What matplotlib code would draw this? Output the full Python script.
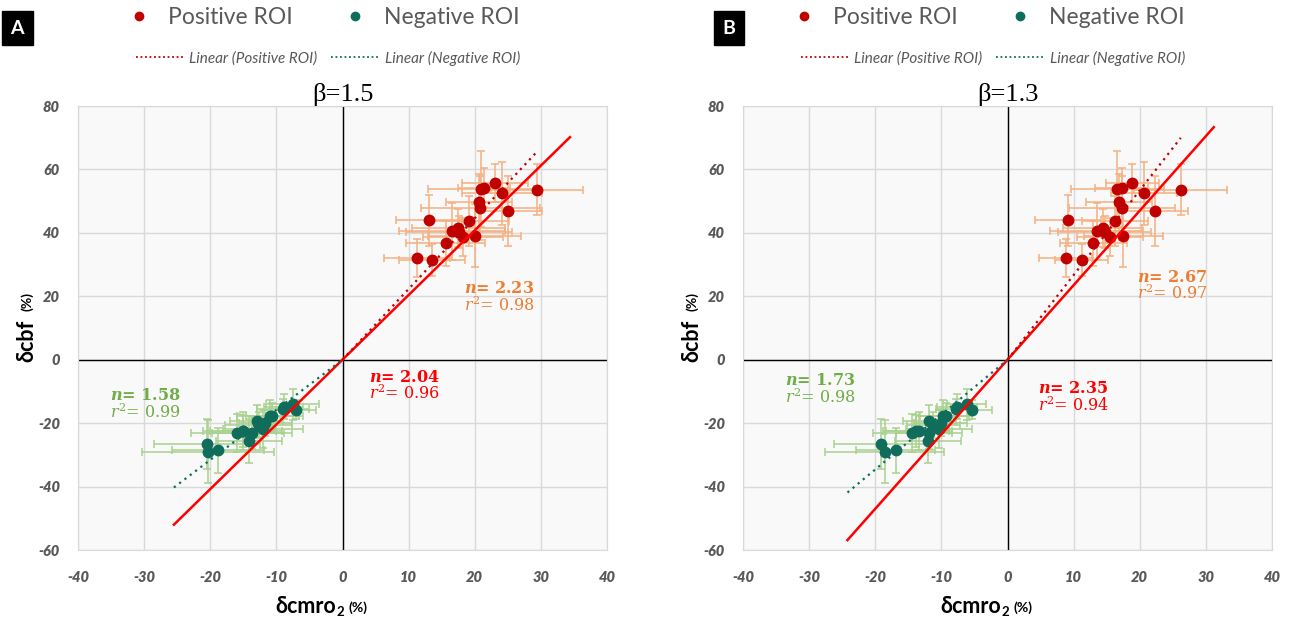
import matplotlib
matplotlib.use("Agg")
import matplotlib.pyplot as plt
from matplotlib.lines import Line2D
import numpy as np

# delta cbf (%) -- same for both beta values
cbf_pos = [32.2, 31.5, 44.0, 36.7, 40.5, 41.4, 40.2, 38.6, 43.7, 39.1, 49.6, 47.9, 53.9, 54.3, 55.8, 52.5, 46.8, 53.6]
cbf_pos_err = [6, 5, 8, 7, 9, 6, 5, 6, 8, 10, 9, 10, 12, 6, 6, 10, 11, 8]
cbf_neg = [-26.6, -29.0, -28.6, -23.1, -22.4, -22.6, -25.6, -23.0, -19.3, -20.6, -21.7, -20.0, -17.8, -17.7, -15.4, -14.8, -14.1, -15.8]
cbf_neg_err = [8, 10, 7, 6, 5, 6, 7, 5, 5, 4, 6, 4, 5, 4, 3, 4, 5, 3]

# delta cmro2 (%) for beta = 1.5 (A) and beta = 1.3 (B)
cmro_pos_a = [11.3, 13.5, 13.1, 15.6, 16.6, 17.5, 17.6, 18.2, 19.2, 20.0, 20.6, 20.8, 21.0, 21.4, 23.1, 24.1, 25.1, 29.4]
cmro_pos_a_err = [5, 5, 5, 6, 8, 7, 8, 6, 6, 7, 5, 9, 8, 4, 5, 6, 5, 7]
cmro_neg_a = [-20.5, -20.3, -18.8, -15.9, -15.1, -15.0, -14.2, -13.7, -13.0, -12.7, -12.0, -11.7, -11.0, -10.6, -9.0, -8.9, -7.5, -7.0]
cmro_neg_a_err = [8, 10, 7, 7, 6, 5, 5, 6, 4, 5, 6, 4, 5, 4, 4, 3, 4, 3]

cmro_pos_b = [8.8, 11.2, 9.1, 13.0, 13.5, 14.4, 14.7, 15.5, 16.2, 17.5, 16.9, 17.3, 16.6, 17.3, 18.9, 20.6, 22.3, 26.2]
cmro_pos_b_err = [4, 4, 5, 5, 7, 6, 7, 5, 5, 6, 5, 8, 7, 4, 4, 5, 5, 7]
cmro_neg_b = [-19.2, -18.6, -16.9, -14.4, -13.8, -13.4, -12.0, -11.9, -11.8, -11.2, -10.3, -10.1, -9.8, -9.3, -7.8, -7.6, -6.2, -5.3]
cmro_neg_b_err = [7, 9, 6, 6, 5, 5, 5, 5, 4, 4, 5, 4, 4, 4, 3, 3, 3, 3]

betas = ["β=1.5", "β=1.3"]
labels = ["A", "B"]
n_all = [2.04, 2.35]
r2_all = [0.96, 0.94]
n_pos = [2.23, 2.67]
r2_pos = [0.98, 0.97]
n_neg = [1.58, 1.73]
r2_neg = [0.99, 0.98]
# annotation anchors (data coords): all, positive, negative
ann_all = [(4.0, -5.5), (4.6, -9.2)]
ann_pos = [(18.3, 22.5), (19.6, 26.0)]
ann_neg = [(-35.2, -11.3), (-33.6, -6.6)]

xticks = list(range(-40, 41, 10))
yticks = list(range(-60, 81, 20))

forecast = 5

RED_DOT = "#c00000"
TEAL = "#106d5c"
ORANGE_ERR = "#f5b080"
GREEN_ERR = "#a9d18e"
ORANGE = "#ed7d31"
GREEN = "#70ad47"
RED = "#ff0000"
GREY = "#595959"

plt.rcParams['font.family'] = ['Lato', 'DejaVu Sans']
plt.rcParams['mathtext.fontset'] = 'dejavuserif'
plt.rcParams['axes.unicode_minus'] = False

fig = plt.figure(figsize=(12.9, 6.23), dpi=100)

panels = [
    (cmro_pos_a, cmro_pos_a_err, cmro_neg_a, cmro_neg_a_err),
    (cmro_pos_b, cmro_pos_b_err, cmro_neg_b, cmro_neg_b_err),
]
lefts = [78 / 1290, 743 / 1290]
letter_x = [17 / 1290, 729 / 1290]

for i, (xp, xpe, xn, xne) in enumerate(panels):
    ax = fig.add_axes([lefts[i], 73 / 623, 529 / 1290, 444 / 623])
    ax.set_facecolor("#f9f9f9")
    ax.set_xlim(-40, 40)
    ax.set_ylim(-60, 80)
    ax.set_xticks(xticks)
    ax.set_yticks(yticks)
    tick_kw = dict(fontweight="heavy", fontstyle="italic", color=GREY, fontsize=10.5)
    ax.set_xticklabels([str(v) for v in xticks], **tick_kw)
    ax.set_yticklabels([str(v) for v in yticks], **tick_kw)
    ax.grid(True, color="#d9d9d9", lw=1)
    ax.set_axisbelow(True)
    for s in ax.spines.values():
        s.set_color("#d9d9d9")
    ax.axhline(0, color="black", lw=1, zorder=1)
    ax.axvline(0, color="black", lw=1, zorder=1)
    ax.tick_params(length=0)
    ax.tick_params(axis="x", pad=15)
    ax.tick_params(axis="y", pad=13)

    ax.errorbar(xp, cbf_pos, xerr=xpe, yerr=cbf_pos_err, fmt="none",
                ecolor=ORANGE_ERR, elinewidth=1.1, capsize=3, capthick=1.1, zorder=2)
    ax.errorbar(xn, cbf_neg, xerr=xne, yerr=cbf_neg_err, fmt="none",
                ecolor=GREEN_ERR, elinewidth=1.1, capsize=3, capthick=1.1, zorder=2)
    ax.plot(xp, cbf_pos, "o", color=RED_DOT, ms=7.5, zorder=4)
    ax.plot(xn, cbf_neg, "o", color=TEAL, ms=7.5, zorder=4)

    # trend lines through origin
    xa = np.array([min(xn) - forecast, max(xp) + forecast])
    ax.plot(xa, n_all[i] * xa, color=RED, lw=1.8, zorder=5)
    xpp = np.array([0, max(xp)])
    ax.plot(xpp, n_pos[i] * xpp, ls=(0, (1, 2)), color=RED_DOT, lw=1.6, zorder=5)
    xnn = np.array([min(xn) - forecast, 0])
    ax.plot(xnn, n_neg[i] * xnn, ls=(0, (1, 2)), color=TEAL, lw=1.6, zorder=5)

    for (x0, y0), n, r2, c in [(ann_all[i], n_all[i], r2_all[i], RED),
                               (ann_pos[i], n_pos[i], r2_pos[i], ORANGE),
                               (ann_neg[i], n_neg[i], r2_neg[i], GREEN)]:
        ax.text(x0, y0, r"$\boldsymbol{n}$" + "= %.2f" % n, color=c, fontsize=11.5,
                fontweight="bold", family="DejaVu Serif", va="center", zorder=6)
        ax.text(x0, y0 - 5.3, r"$r^2$" + "= %.2f" % r2, color=c, fontsize=11.5,
                family="DejaVu Serif", va="center", zorder=6)

    ax.set_title(betas[i], family="Liberation Serif", fontsize=19, pad=1)

    # axis labels
    ax.text(-0.097, 0.47, "δcbf", rotation=90, transform=ax.transAxes,
            fontsize=15.5, fontweight="bold", ha="center", va="center")
    ax.text(-0.097, 0.56, "(%)", rotation=90, transform=ax.transAxes,
            fontsize=10, fontweight="bold", ha="center", va="center")
    ax.text(0.488, -0.128, "δcmro", transform=ax.transAxes, fontsize=15.5,
            fontweight="bold", ha="right", va="center")
    ax.text(0.489, -0.14, "2", transform=ax.transAxes, fontsize=9.5,
            fontweight="bold", ha="left", va="center")
    ax.text(0.512, -0.131, "(%)", transform=ax.transAxes, fontsize=10,
            fontweight="bold", ha="left", va="center")

    # legends
    cx = (lefts[i] * 1290 + 245) / 1290
    h1 = [Line2D([], [], ls="none", marker="o", ms=6, color=RED_DOT),
          Line2D([], [], ls="none", marker="o", ms=6, color=TEAL)]
    fig.legend(h1, ["Positive ROI", "Negative ROI"], ncol=2, frameon=False,
               loc="center", bbox_to_anchor=(cx, 1 - 18 / 623),
               fontsize=16.5, handlelength=1.1, handletextpad=0.7, columnspacing=2.2,
               labelcolor=GREY)
    h2 = [Line2D([], [], ls=(0, (1, 1.5)), lw=1.3, color=RED_DOT),
          Line2D([], [], ls=(0, (1, 1.5)), lw=1.3, color=TEAL)]
    fig.legend(h2, ["Linear (Positive ROI)", "Linear (Negative ROI)"], ncol=2, frameon=False,
               loc="center", bbox_to_anchor=(cx + 5 / 1290, 1 - 58 / 623),
               prop={"size": 11, "style": "italic"}, handlelength=3.2, handletextpad=0.3,
               columnspacing=0.9, labelcolor=GREY)

    # panel letter
    fig.text(letter_x[i], 1 - 28 / 623, labels[i], color="white",
             fontsize=14, fontweight="bold", ha="center", va="center",
             bbox=dict(boxstyle="square,pad=0.45", fc="black", ec="black"))

fig.savefig("out.png", dpi=100)
